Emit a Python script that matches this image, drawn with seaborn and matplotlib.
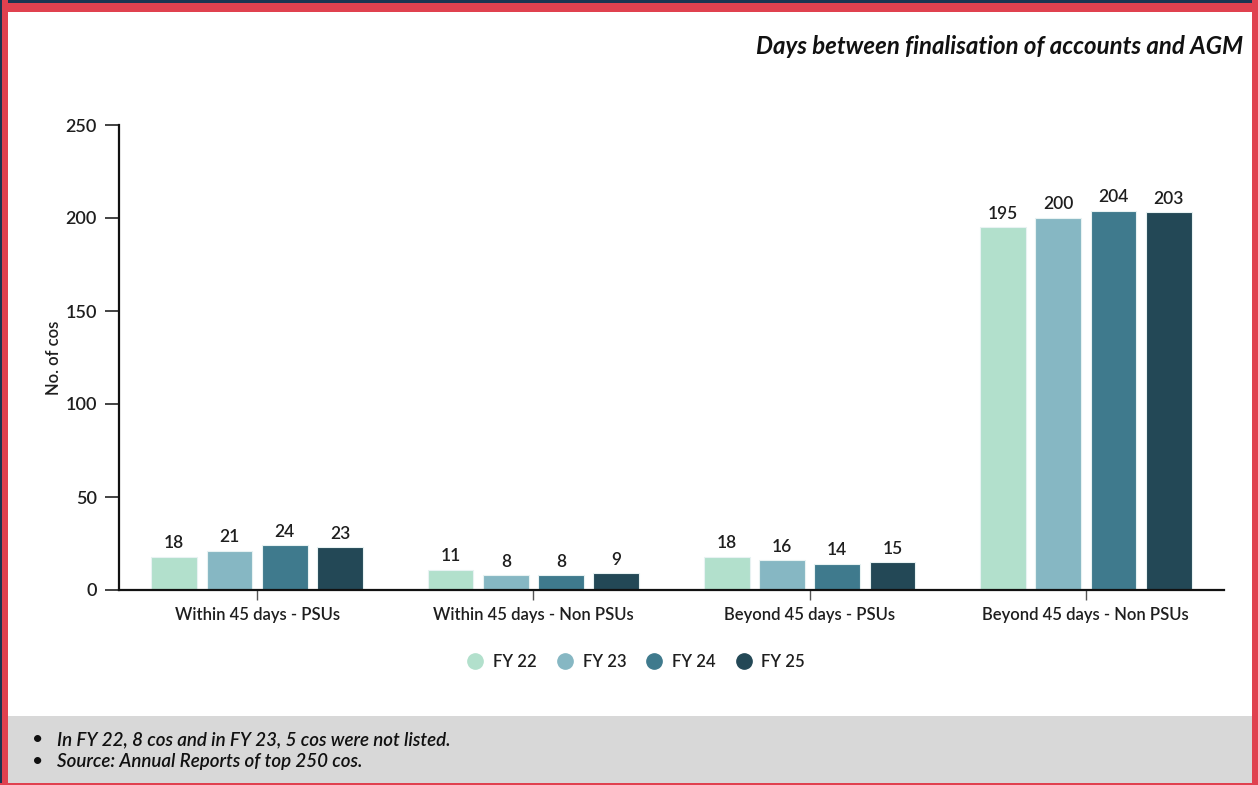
import matplotlib
matplotlib.use("Agg")
import matplotlib.pyplot as plt
from matplotlib.patches import Rectangle
from matplotlib.lines import Line2D
import seaborn as sns
import pandas as pd

categories = ["Within 45 days - PSUs", "Within 45 days - Non PSUs",
              "Beyond 45 days - PSUs", "Beyond 45 days - Non PSUs"]
years = ["FY 22", "FY 23", "FY 24", "FY 25"]
fy22 = [18, 11, 18, 195]
fy23 = [21, 8, 16, 200]
fy24 = [24, 8, 14, 204]
fy25 = [23, 9, 15, 203]
colors = ["#b2e0cc", "#86b7c3", "#3f7a8d", "#234856"]
yticks = [0, 50, 100, 150, 200, 250]
title = "Days between finalisation of accounts and AGM"
notes = ["In FY 22, 8 cos and in FY 23, 5 cos were not listed.",
         "Source: Annual Reports of top 250 cos."]

rows = []
for yr, vals in zip(years, [fy22, fy23, fy24, fy25]):
    for cat, v in zip(categories, vals):
        rows.append({"category": cat, "year": yr, "value": v})
df = pd.DataFrame(rows)

sns.set_theme(style="white")
plt.rcParams["font.family"] = ["Lato", "DejaVu Sans"]
W, H = 1258, 785
txt = "#1e1e1e"

fig = plt.figure(figsize=(12.58, 7.85), dpi=100)
fig.patch.set_facecolor("white")
ax = fig.add_axes([119 / W, 195 / H, (1224 - 119) / W, (590 - 125) / H])

sns.barplot(data=df, x="category", y="value", hue="year", order=categories,
            hue_order=years, palette=colors, saturation=1, width=0.8, gap=0.17,
            edgecolor="#e8f2f2", linewidth=0.8, legend=False, ax=ax)

for cont in ax.containers:
    ax.bar_label(cont, padding=4, fontsize=12.5, color=txt, fontweight="semibold")

ax.set_xlim(-0.5, 3.5)
ax.set_ylim(0, 250)
ax.set_yticks(yticks)
ax.set_xlabel("")
ax.set_ylabel("No. of cos", fontsize=12, color=txt, fontweight="semibold")
ax.yaxis.set_label_coords((62 - 119) / (1224 - 119), 0.5)
ax.tick_params(axis="y", length=10, width=1.2, color="#222222", labelsize=13,
               labelcolor=txt, pad=6, left=True)
ax.tick_params(axis="x", length=7, width=1, color="#555555", labelsize=12,
               labelcolor=txt, pad=5, bottom=True)
for lab in ax.get_xticklabels() + ax.get_yticklabels():
    lab.set_fontweight("semibold")
for s in ["top", "right"]:
    ax.spines[s].set_visible(False)
for s in ["left", "bottom"]:
    ax.spines[s].set_color("#111111")
    ax.spines[s].set_linewidth(1.6)

handles = [Line2D([], [], marker="o", linestyle="", markersize=11,
                  markerfacecolor=c, markeredgecolor=c) for c in colors]
leg = fig.legend(handles, years, loc="center", bbox_to_anchor=(632 / W, 1 - 662 / H),
                 ncol=4, frameon=False, fontsize=12, handletextpad=0.05,
                 columnspacing=0.7, labelcolor=txt)
for t in leg.get_texts():
    t.set_fontweight("semibold")

fig.text(1243 / W, 1 - 47 / H, title, ha="right", va="center",
         fontsize=17.3, fontweight="bold", fontstyle="italic", color="#111111")

# footer box with notes
fig.add_artist(Rectangle((8 / W, 0), (1252 - 8) / W, (785 - 716) / H,
                         transform=fig.transFigure, facecolor="#d8d8d8",
                         edgecolor="none", zorder=0))
for i, note in enumerate(notes):
    yy = 1 - (740 + 22 * i) / H
    fig.text(38 / W, yy, "\u2022", ha="center", va="center", fontsize=14,
             color="#111111")
    fig.text(57 / W, yy, note, ha="left", va="center", fontsize=13.5,
             fontstyle="italic", fontweight="semibold", color="#111111")

# frame around the card
def frame(x0, y0, x1, y1, color):
    fig.add_artist(Rectangle((x0 / W, 1 - y1 / H), (x1 - x0) / W, (y1 - y0) / H,
                             transform=fig.transFigure, facecolor=color,
                             edgecolor="none", zorder=5))
red = "#e0414f"
navy = "#1b3551"
frame(0, 0, W, 12, red)
frame(0, 0, W, 3, navy)
frame(0, 0, 8, H, red)
frame(0, 0, 2, H, navy)
frame(1252, 0, W, H, red)
frame(0, 783, W, H, red)

fig.savefig("out.png", dpi=100, facecolor=fig.get_facecolor())
